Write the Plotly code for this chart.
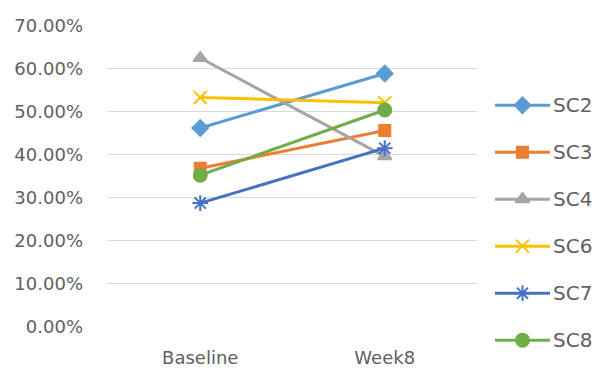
import plotly.graph_objects as go

# Survey categories and series values (share of respondents)
categories = ["Baseline", "Week8"]
series_names = ["SC2", "SC3", "SC4", "SC6", "SC7", "SC8"]
sc2 = [0.462, 0.589]
sc3 = [0.368, 0.456]
sc4 = [0.625, 0.396]
sc6 = [0.533, 0.521]
sc7 = [0.287, 0.415]
sc8 = [0.352, 0.504]
y_ticks = [0.0, 0.1, 0.2, 0.3, 0.4, 0.5, 0.6, 0.7]

values = [sc2, sc3, sc4, sc6, sc7, sc8]
colors = ["#5B9BD5", "#ED7D31", "#A5A5A5", "#FFC000", "#4472C4", "#70AD47"]
symbols = ["diamond", "square", "triangle-up", "x-thin-open", "asterisk-open", "circle"]
sizes = [12, 11, 12, 13, 13, 13]

FONT = "DejaVu Sans"
TEXT = "#5f5f5f"
W, H = 598, 368
TOP, BOTTOM = 10, 10
LEFT, RIGHT = 108, 0
plot_h = H - TOP - BOTTOM
plot_w = W - LEFT - RIGHT


def pdom_y(px_top, px_bot):
    """Convert pixel rows to a paper-domain interval."""
    return [(H - BOTTOM - px_bot) / plot_h, (H - BOTTOM - px_top) / plot_h]


def pdom_x(px_left, px_right):
    """Convert pixel columns to a paper-domain interval."""
    return [(px_left - LEFT) / plot_w, (px_right - LEFT) / plot_w]


fig = go.Figure()

for name, vals, col, sym, sz in zip(series_names, values, colors, symbols, sizes):
    fig.add_trace(go.Scatter(
        x=categories, y=vals, mode="lines+markers", name=name,
        line=dict(color=col, width=3),
        marker=dict(symbol=sym, size=sz, color=col, line=dict(color=col, width=2)),
        xaxis="x", yaxis="y", showlegend=False, cliponaxis=False,
    ))

# Legend drawn on its own small axis: one row per series
for i, (name, col, sym, sz) in enumerate(zip(series_names, colors, symbols, sizes)):
    fig.add_trace(go.Scatter(
        x=[0, 1], y=[i, i], mode="lines", line=dict(color=col, width=3),
        xaxis="x2", yaxis="y2", showlegend=False, hoverinfo="skip", cliponaxis=False,
    ))
    fig.add_trace(go.Scatter(
        x=[0.5], y=[i], mode="markers",
        marker=dict(symbol=sym, size=sz, color=col, line=dict(color=col, width=2)),
        xaxis="x2", yaxis="y2", showlegend=False, hoverinfo="skip", cliponaxis=False,
    ))
    fig.add_annotation(
        x=1, y=i, xref="x2", yref="y2", text=name, showarrow=False,
        xanchor="left", yanchor="middle", xshift=1,
        font=dict(family=FONT, size=20, color=TEXT),
    )

# legend rows: first at 105 px, spacing ~47.4 px
row0, step = 105, 47.4
r_top = (TOP - row0) / step
r_bot = (H - BOTTOM - row0) / step

fig.update_layout(
    width=W, height=H,
    margin=dict(l=LEFT, r=RIGHT, t=TOP, b=BOTTOM),
    paper_bgcolor="white", plot_bgcolor="white",
    font=dict(family=FONT, size=18, color=TEXT),
    xaxis=dict(
        type="category", range=[-0.5, 1.5], domain=pdom_x(108, 477),
        showgrid=False, zeroline=False, showline=False, ticks="",
        tickfont=dict(size=18, color=TEXT), ticklabelstandoff=19,
        anchor="y",
    ),
    yaxis=dict(
        range=[0, 0.7], domain=pdom_y(25, 328),
        tickvals=y_ticks, tickformat=".2%",
        showgrid=True, gridcolor="#D9D9D9", gridwidth=1,
        zeroline=False, showline=False, ticks="",
        tickfont=dict(size=18, color=TEXT), ticklabelstandoff=24,
        anchor="x",
    ),
    xaxis2=dict(
        domain=pdom_x(495, 550), range=[0, 1], visible=False, anchor="y2",
    ),
    yaxis2=dict(
        domain=[0, 1], range=[r_bot, r_top], visible=False, anchor="x2",
    ),
)

fig.write_html("out.html")
